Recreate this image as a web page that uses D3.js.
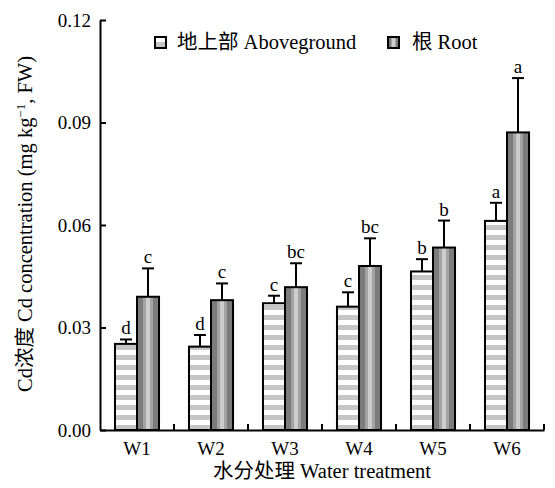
<!DOCTYPE html>
<html>
<head>
<meta charset="utf-8">
<script src="https://cdn.jsdelivr.net/npm/d3@7"></script>
<style>
  body { margin: 0; background: #fff; }
  text { font-family: "Liberation Serif", "Noto Sans CJK SC", serif; fill: #000; }
</style>
</head>
<body>
<svg id="chart" width="555" height="488"></svg>
<script>
let categories = ["W1", "W2", "W3", "W4", "W5", "W6"];
let seriesNames = ["地上部 Aboveground", "根 Root"];

let aboveground = [0.0252, 0.0244, 0.0371, 0.0361, 0.0464, 0.0612];
let abovegroundErr = [0.0013, 0.0034, 0.0022, 0.0042, 0.0036, 0.0053];
let abovegroundSig = ["d", "d", "c", "c", "b", "a"];

let root = [0.0390, 0.0380, 0.0418, 0.0480, 0.0534, 0.0871];
let rootErr = [0.0083, 0.0049, 0.0070, 0.0081, 0.0079, 0.0159];
let rootSig = ["c", "c", "bc", "bc", "b", "a"];

let yTicks = [0, 0.03, 0.06, 0.09, 0.12];

let svg = d3.select("#chart");

// patterns
let defs = svg.append("defs");
let hp = defs.append("pattern")
    .attr("id", "hstripe")
    .attr("patternUnits", "userSpaceOnUse")
    .attr("width", 10).attr("height", 10);
hp.append("rect").attr("width", 10).attr("height", 10).attr("fill", "#fff");
hp.append("rect").attr("y", 5).attr("width", 10).attr("height", 5).attr("fill", "#c6c6c6");

let vg = defs.append("linearGradient").attr("id", "vstripe");
[[0, "#7c7c7c"], [0.27, "#7c7c7c"], [0.27, "#a3a3a3"], [0.4, "#a3a3a3"], [0.4, "#cdcdcd"],
 [0.6, "#cdcdcd"], [0.6, "#a3a3a3"], [0.73, "#a3a3a3"], [0.73, "#7c7c7c"], [1, "#7c7c7c"]]
    .forEach((s) => {
        vg.append("stop").attr("offset", s[0]).attr("stop-color", s[1]);
    });
let fills = ["url(#hstripe)", "url(#vstripe)"];

let data = categories.map((c, i) => {
    return {
        cat: c,
        bars: [
            {s: 0, value: aboveground[i], err: abovegroundErr[i], sig: abovegroundSig[i]},
            {s: 1, value: root[i], err: rootErr[i], sig: rootSig[i]}
        ]
    }
});

let x = d3.scaleBand()
    .domain(categories)
    .range([100, 544]);
let xInner = d3.scaleBand()
    .domain([0, 1])
    .range([0, x.bandwidth()])
    .paddingOuter(0.68);
let y = d3.scaleLinear()
    .domain([0, 0.12])
    .range([430, 20]);

// bars
let groups = svg.selectAll("g.grp")
    .data(data)
    .enter()
    .append("g")
    .attr("class", "grp")
    .attr("transform", (d) => "translate(" + x(d.cat) + ",0)");

let bar = groups.selectAll("g.bar")
    .data((d) => d.bars)
    .enter()
    .append("g")
    .attr("class", "bar");

bar.append("line")
    .attr("x1", (d) => xInner(d.s) + xInner.bandwidth() / 2)
    .attr("x2", (d) => xInner(d.s) + xInner.bandwidth() / 2)
    .attr("y1", (d) => y(d.value))
    .attr("y2", (d) => y(d.value + d.err))
    .attr("stroke", "#000").attr("stroke-width", 2);
bar.append("line")
    .attr("x1", (d) => xInner(d.s) + xInner.bandwidth() / 2 - 6)
    .attr("x2", (d) => xInner(d.s) + xInner.bandwidth() / 2 + 6)
    .attr("y1", (d) => y(d.value + d.err))
    .attr("y2", (d) => y(d.value + d.err))
    .attr("stroke", "#000").attr("stroke-width", 2);
bar.append("rect")
    .attr("x", (d) => xInner(d.s))
    .attr("width", xInner.bandwidth())
    .attr("y", (d) => y(d.value))
    .attr("height", (d) => y(0) - y(d.value))
    .attr("fill", (d) => fills[d.s])
    .attr("stroke", "#000").attr("stroke-width", 2);
bar.append("text")
    .attr("x", (d) => xInner(d.s) + xInner.bandwidth() / 2)
    .attr("y", (d) => y(d.value + d.err) - 5)
    .attr("text-anchor", "middle")
    .attr("font-size", 19)
    .text((d) => d.sig);

// y axis
let yAxis = svg.append("g")
    .attr("transform", "translate(100,0)")
    .call(d3.axisLeft(y).tickValues(yTicks).tickFormat(d3.format(".2f")).tickSizeInner(-6).tickSizeOuter(0).tickPadding(9));
yAxis.select(".domain").attr("stroke-width", 2);
yAxis.selectAll(".tick line").attr("stroke-width", 2);
yAxis.selectAll("text").attr("font-size", 19).attr("font-family", "Liberation Serif");

// x axis
let xAxis = svg.append("g")
    .attr("transform", "translate(0,430)")
    .call(d3.axisBottom(x).tickSize(0).tickPadding(12));
xAxis.select(".domain").attr("stroke-width", 2);
xAxis.selectAll("text").attr("font-size", 19).attr("font-family", "Liberation Serif");
xAxis.selectAll("line.sep")
    .data(categories)
    .enter()
    .append("line")
    .attr("class", "sep")
    .attr("x1", (d) => x(d) + x.bandwidth())
    .attr("x2", (d) => x(d) + x.bandwidth())
    .attr("y1", 0).attr("y2", -6)
    .attr("stroke", "#000").attr("stroke-width", 2);

// axis titles
svg.append("text")
    .attr("x", 322).attr("y", 478)
    .attr("text-anchor", "middle")
    .attr("font-size", 20.5)
    .text("水分处理 Water treatment");

let yt = svg.append("text")
    .attr("transform", "translate(32,224) rotate(-90)")
    .attr("text-anchor", "middle")
    .attr("font-size", 20.5);
yt.append("tspan").text("Cd浓度 Cd concentration (mg kg");
yt.append("tspan").attr("dy", -7).attr("font-size", 13).text("−1");
yt.append("tspan").attr("dy", 7).text(", FW)");

// legend
let legendX = [155, 388];
let legend = svg.selectAll("g.leg")
    .data(seriesNames)
    .enter()
    .append("g")
    .attr("class", "leg")
    .attr("transform", (d, i) => "translate(" + legendX[i] + ",37)");
legend.append("rect")
    .attr("width", 11).attr("height", 11)
    .attr("fill", (d, i) => fills[i])
    .attr("stroke", "#000").attr("stroke-width", 2);
legend.append("text")
    .attr("x", (d, i) => i === 0 ? 22 : 24)
    .attr("y", 12)
    .attr("font-size", 20.5)
    .text((d) => d);
</script>
</body>
</html>
